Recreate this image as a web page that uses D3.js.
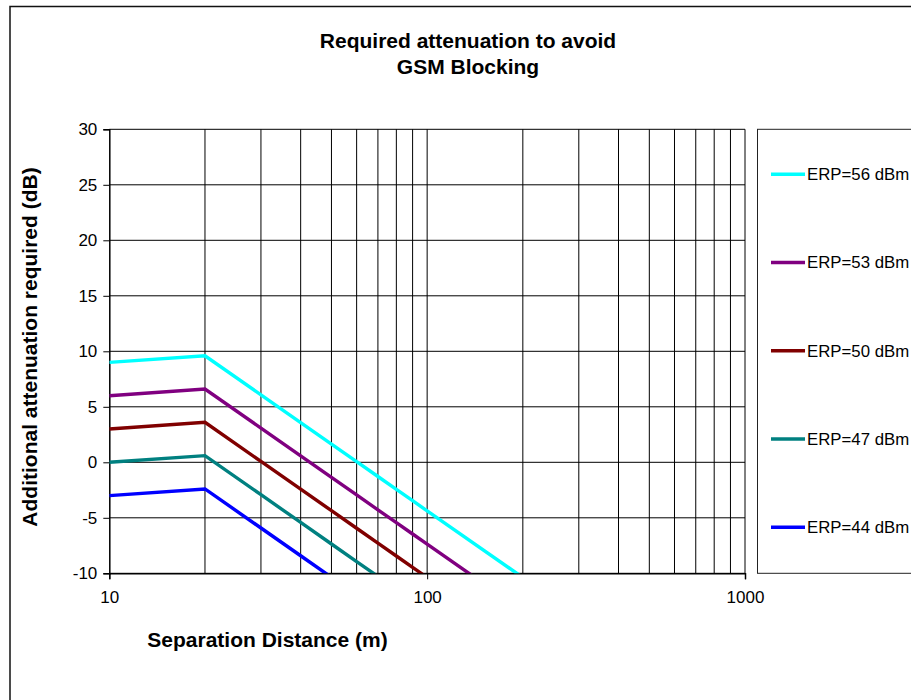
<!DOCTYPE html>
<html>
<head>
<meta charset="utf-8">
<script src="https://cdn.jsdelivr.net/npm/d3@7"></script>
<style>
  html, body { margin: 0; padding: 0; background: #fff; }
  svg { display: block; font-family: "Liberation Sans", Arial, sans-serif; }
</style>
</head>
<body>
<svg id="chart" width="911" height="700"></svg>
<script>
// ---- data ----
const titleLines = ["Required attenuation to avoid", "GSM Blocking"];
const xTitle = "Separation Distance (m)";
const yTitle = "Additional attenuation required (dB)";
const distances = [10, 20, 30, 40, 50, 60, 70, 80, 90, 100, 200];
const seriesNames = ["ERP=56 dBm", "ERP=53 dBm", "ERP=50 dBm", "ERP=47 dBm", "ERP=44 dBm"];
const erp56 = [9.0, 9.6, 6.08, 3.58, 1.64, 0.06, -1.28, -2.44, -3.46, -4.38, -10.38];
const erp53 = [6.0, 6.6, 3.08, 0.58, -1.36, -2.94, -4.28, -5.44, -6.46, -7.38, -13.38];
const erp50 = [3.0, 3.6, 0.08, -2.42, -4.36, -5.94, -7.28, -8.44, -9.46, -10.38, -16.38];
const erp47 = [0.0, 0.6, -2.92, -5.42, -7.36, -8.94, -10.28, -11.44, -12.46, -13.38, -19.38];
const erp44 = [-3.0, -2.4, -5.92, -8.42, -10.36, -11.94, -13.28, -14.44, -15.46, -16.38, -22.38];
const seriesValues = [erp56, erp53, erp50, erp47, erp44];
const seriesColors = ["#00FFFF", "#800080", "#800000", "#008080", "#0000FF"];
const yTicks = [-10, -5, 0, 5, 10, 15, 20, 25, 30];
const xMajorTicks = [10, 100, 1000];
const xMinorGrid = [20, 30, 40, 50, 60, 70, 80, 90, 100, 200, 300, 400, 500, 600, 700, 800, 900, 1000];

// ---- layout ----
const svg = d3.select("#chart");
const x = d3.scaleLog().domain([10, 1000]).range([109.3, 745]);
const y = d3.scaleLinear().domain([-10, 30]).range([573.3, 129.3]);
const plainFmt = d => String(d);

// outer chart border (extends beyond the view)
svg.append("rect").attr("x", 10).attr("y", 6.5).attr("width", 1000).attr("height", 1000)
  .attr("fill", "#fff").attr("stroke", "#111").attr("stroke-width", 1.5);

// title
svg.append("text").attr("x", 468).attr("y", 48).attr("text-anchor", "middle")
  .attr("font-size", 21).attr("font-weight", "bold")
  .selectAll("tspan").data(titleLines).join("tspan")
  .attr("x", 468).attr("dy", (d, i) => i === 0 ? 0 : 25.5).text(d => d);

// gridlines
const g = svg.append("g");
g.selectAll("line.hg").data(yTicks).join("line").attr("class", "hg")
  .attr("x1", x(10)).attr("x2", x(1000)).attr("y1", d => y(d)).attr("y2", d => y(d))
  .attr("stroke", "#000").attr("stroke-width", 1);
g.selectAll("line.vg").data(xMinorGrid).join("line").attr("class", "vg")
  .attr("x1", d => x(d)).attr("x2", d => x(d)).attr("y1", y(30)).attr("y2", y(-10))
  .attr("stroke", "#000").attr("stroke-width", 1);

// axes
const yAxis = d3.axisLeft(y).tickValues(yTicks).tickSize(6).tickPadding(6).tickFormat(plainFmt);
const yG = svg.append("g").attr("transform", `translate(${x(10)},0)`).call(yAxis);
yG.select(".domain").attr("stroke", "#000").attr("stroke-width", 1.5);
yG.selectAll("text").attr("font-size", 17).attr("fill", "#000").attr("font-family", "Liberation Sans, Arial, sans-serif");

const xAxis = d3.axisBottom(x).tickValues(xMajorTicks).tickSize(6).tickPadding(12).tickFormat(plainFmt);
const xG = svg.append("g").attr("transform", `translate(0,${y(-10)})`).call(xAxis);
xG.select(".domain").attr("stroke", "#000").attr("stroke-width", 1.5);
xG.selectAll("text").attr("font-size", 17).attr("fill", "#000").attr("font-family", "Liberation Sans, Arial, sans-serif");

// clip
svg.append("clipPath").attr("id", "plotclip").append("rect")
  .attr("x", x(10)).attr("y", y(30)).attr("width", x(1000) - x(10)).attr("height", y(-10) - y(30));

const line = d3.line().x((d, i) => x(distances[i])).y(d => y(d));
svg.append("g").attr("clip-path", "url(#plotclip)")
  .selectAll("path").data(seriesValues).join("path")
  .attr("d", d => line(d)).attr("fill", "none")
  .attr("stroke", (d, i) => seriesColors[i]).attr("stroke-width", 3.4)
  .attr("stroke-linejoin", "miter");

// axis titles
svg.append("text").attr("x", 267.5).attr("y", 647).attr("text-anchor", "middle")
  .attr("font-size", 21).attr("font-weight", "bold").text(xTitle);
svg.append("text").attr("transform", "translate(37,347) rotate(-90)").attr("text-anchor", "middle")
  .attr("font-size", 21).attr("font-weight", "bold").text(yTitle);

// legend
svg.append("rect").attr("x", 757.5).attr("y", 129.3).attr("width", 300).attr("height", 444)
  .attr("fill", "#fff").attr("stroke", "#222").attr("stroke-width", 1);
const legendY = d3.scalePoint().domain(seriesNames).range([174.3, 527.3]);
const lg = svg.append("g").selectAll("g").data(seriesNames).join("g")
  .attr("transform", d => `translate(0,${legendY(d)})`);
lg.append("line").attr("x1", 771).attr("x2", 805).attr("y1", 0).attr("y2", 0)
  .attr("stroke", (d, i) => seriesColors[i]).attr("stroke-width", 3.4);
lg.append("text").attr("x", 807).attr("y", 0).attr("dy", "0.35em")
  .attr("font-size", 16.8).text(d => d);
</script>
</body>
</html>
